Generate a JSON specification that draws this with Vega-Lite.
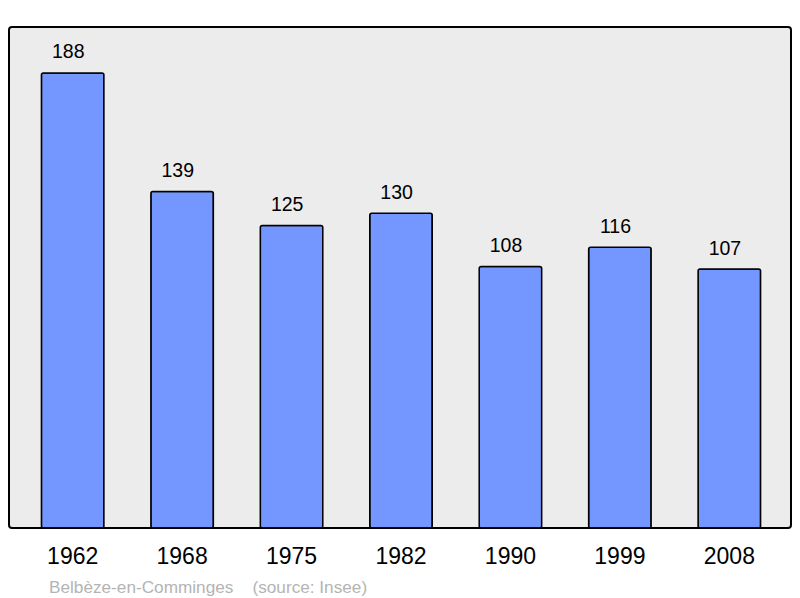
{
  "$schema": "https://vega.github.io/schema/vega-lite/v6.json",
  "autosize": "none",
  "width": 782,
  "height": 501,
  "padding": {"left": 9, "top": 27, "right": 9, "bottom": 70},
  "background": "white",
  "config": {
    "view": {"fill": "#ececec", "stroke": "#000000", "strokeWidth": 2, "cornerRadius": 3},
    "font": "Liberation Sans"
  },
  "title": {
    "text": "Belbèze-en-Comminges\u00a0\u00a0\u00a0\u00a0(source: Insee)",
    "orient": "bottom",
    "anchor": "start",
    "dx": 40,
    "offset": 11,
    "fontSize": 17.2,
    "fontWeight": "normal",
    "color": "#b4b4b4",
    "font": "Liberation Sans"
  },
  "data": {
    "values": [
      {"year": "1962", "pop": 188},
      {"year": "1968", "pop": 139},
      {"year": "1975", "pop": 125},
      {"year": "1982", "pop": 130},
      {"year": "1990", "pop": 108},
      {"year": "1999", "pop": 116},
      {"year": "2008", "pop": 107}
    ]
  },
  "encoding": {
    "x": {
      "field": "year",
      "type": "nominal",
      "sort": null,
      "scale": {"range": [2, 782], "paddingInner": 0.429, "paddingOuter": 0.278},
      "axis": {
        "title": null,
        "domain": false,
        "ticks": false,
        "labelAngle": 0,
        "labelFontSize": 23,
        "labelColor": "#000000",
        "labelPadding": 17,
        "labelFont": "Liberation Sans"
      }
    },
    "y": {
      "field": "pop",
      "type": "quantitative",
      "scale": {"domain": [0, 207], "nice": false},
      "axis": null
    }
  },
  "layer": [
    {
      "mark": {"type": "bar", "fill": "#7396ff", "stroke": "#000000", "strokeWidth": 1.5, "cornerRadius": 2}
    },
    {
      "mark": {"type": "text", "baseline": "alphabetic", "dy": -14.5, "dx": -4.4, "fontSize": 19.5, "color": "#000000", "font": "Liberation Sans"},
      "encoding": {"text": {"field": "pop", "type": "quantitative"}}
    }
  ]
}
